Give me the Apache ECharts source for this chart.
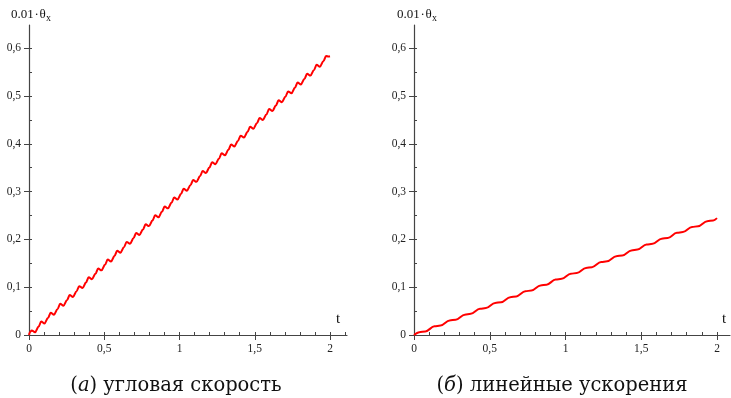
<!DOCTYPE html>
<html><head><meta charset="utf-8">
<script src="https://cdn.jsdelivr.net/npm/echarts@6/dist/echarts.min.js"></script>
<style>html,body{margin:0;padding:0;background:#fff}#c{width:731px;height:398px}</style>
</head><body><div id="c"></div>
<script>
// Left panel: angular velocity curve (t, 0.01*theta_x)
const leftT = [0, 0.006,
  0.018, 0.040, 0.063,
  0.0811, 0.1031, 0.1261,
  0.1442, 0.1662, 0.1892,
  0.2073, 0.2293, 0.2523,
  0.2704, 0.2924, 0.3154,
  0.3335, 0.3555, 0.3785,
  0.3966, 0.4186, 0.4416,
  0.4597, 0.4817, 0.5047,
  0.5228, 0.5448, 0.5678,
  0.5859, 0.6079, 0.6309,
  0.649, 0.671, 0.694,
  0.7121, 0.7341, 0.7571,
  0.7752, 0.7972, 0.8202,
  0.8383, 0.8603, 0.8833,
  0.9014, 0.9234, 0.9464,
  0.9645, 0.9865, 1.0095,
  1.0276, 1.0496, 1.0726,
  1.0907, 1.1127, 1.1357,
  1.1538, 1.1758, 1.1988,
  1.2169, 1.2389, 1.2619,
  1.28, 1.302, 1.325,
  1.3431, 1.3651, 1.3881,
  1.4062, 1.4282, 1.4512,
  1.4693, 1.4913, 1.5143,
  1.5324, 1.5544, 1.5774,
  1.5955, 1.6175, 1.6405,
  1.6586, 1.6806, 1.7036,
  1.7217, 1.7437, 1.7667,
  1.7848, 1.8068, 1.8298,
  1.8479, 1.8699, 1.8929,
  1.911, 1.933, 1.956,
  1.9741, 1.99, 2.0];
const leftY = [0, 0.006,
  0.0096, 0.0056, 0.0171,
  0.0281, 0.0241, 0.0356,
  0.0466, 0.0426, 0.0541,
  0.0652, 0.0612, 0.0727,
  0.0837, 0.0797, 0.0912,
  0.1022, 0.0982, 0.1097,
  0.1207, 0.1167, 0.1282,
  0.1392, 0.1352, 0.1467,
  0.1577, 0.1537, 0.1652,
  0.1763, 0.1723, 0.1838,
  0.1948, 0.1908, 0.2023,
  0.2133, 0.2093, 0.2208,
  0.2318, 0.2278, 0.2393,
  0.2503, 0.2463, 0.2578,
  0.2689, 0.2649, 0.2764,
  0.2874, 0.2834, 0.2949,
  0.3059, 0.3019, 0.3134,
  0.3244, 0.3204, 0.3319,
  0.3429, 0.3389, 0.3504,
  0.3614, 0.3574, 0.3689,
  0.3800, 0.3760, 0.3875,
  0.3985, 0.3945, 0.4060,
  0.4170, 0.4130, 0.4245,
  0.4355, 0.4315, 0.4430,
  0.4540, 0.4500, 0.4615,
  0.4726, 0.4686, 0.4801,
  0.4911, 0.4871, 0.4986,
  0.5096, 0.5056, 0.5171,
  0.5281, 0.5241, 0.5356,
  0.5466, 0.5426, 0.5541,
  0.5652, 0.5612, 0.5727,
  0.5837, 0.5825, 0.5830];

// Right panel: linear accelerations curve
const rightT = [0,
  0.035, 0.075, 0.135, 0.175, 0.235, 0.275, 0.335, 0.375, 0.435, 0.475,
  0.535, 0.575, 0.635, 0.675, 0.735, 0.775, 0.835, 0.875, 0.935, 0.975,
  1.035, 1.075, 1.135, 1.175, 1.235, 1.275, 1.335, 1.375, 1.435, 1.475,
  1.535, 1.575, 1.635, 1.675, 1.735, 1.775, 1.835, 1.875, 1.935, 1.975,
  2.0];
const rightY = [0,
  0.0059, 0.0075, 0.0181, 0.0197, 0.0304, 0.0320, 0.0426, 0.0442, 0.0548, 0.0564,
  0.0670, 0.0686, 0.0792, 0.0808, 0.0915, 0.0931, 0.1037, 0.1053, 0.1159, 0.1175,
  0.1281, 0.1297, 0.1403, 0.1419, 0.1526, 0.1542, 0.1648, 0.1664, 0.1770, 0.1786,
  0.1892, 0.1908, 0.2014, 0.2030, 0.2137, 0.2153, 0.2259, 0.2275, 0.2381, 0.2397,
  0.2445];

const xLabelValues = [0, 0.5, 1, 1.5, 2];
const xMinorValues = [0, 0.1, 0.2, 0.3, 0.4, 0.5, 0.6, 0.7, 0.8, 0.9, 1, 1.1, 1.2, 1.3, 1.4, 1.5, 1.6, 1.7, 1.8, 1.9, 2, 2.1];
const yLabelValues = [0, 0.1, 0.2, 0.3, 0.4, 0.5, 0.6];
const yMinorValues = [0, 0.05, 0.1, 0.15, 0.2, 0.25, 0.3, 0.35, 0.4, 0.45, 0.5, 0.55, 0.6];
const yTitleMain = '0.01';
const yTitleSym = 'θ';
const yTitleSub = 'x';
const xName = 't';
const captionLeft = ['а', ' угловая скорость'];
const captionRight = ['б', ' линейные ускорения'];

const FONT = '"Liberation Serif", "Times New Roman", serif';
const CAPFONT = '"DejaVu Serif", serif';
const AX = '#444';
const fmt = v => String(Math.round(v * 10) / 10).replace('.', ',');

function xAxes(grid, max) {
  return [
    { type: 'value', gridIndex: grid, min: 0, max: max,
      axisLine: { show: true, onZero: false, lineStyle: { color: AX, width: 1.2 } },
      axisTick: { show: true, customValues: xLabelValues, length: 5, lineStyle: { color: AX } },
      axisLabel: { customValues: xLabelValues, formatter: fmt, margin: 8, color: '#222', fontFamily: FONT, fontSize: 11.5 },
      splitLine: { show: false } },
    { type: 'value', gridIndex: grid, min: 0, max: max,
      axisLine: { show: false },
      axisTick: { show: true, customValues: xMinorValues, length: 3, lineStyle: { color: AX } },
      axisLabel: { show: false }, splitLine: { show: false } }
  ];
}
function yAxes(grid) {
  return [
    { type: 'value', gridIndex: grid, min: 0, max: 0.6485,
      axisLine: { show: true, onZero: false, lineStyle: { color: AX, width: 1.2 } },
      axisTick: { show: true, customValues: yLabelValues, length: 5, lineStyle: { color: AX } },
      axisLabel: { customValues: yLabelValues, formatter: fmt, margin: 8, color: '#222', fontFamily: FONT, fontSize: 11.5 },
      splitLine: { show: false } },
    { type: 'value', gridIndex: grid, min: 0, max: 0.6485,
      axisLine: { show: false },
      axisTick: { show: true, customValues: yMinorValues, length: 3, lineStyle: { color: AX } },
      axisLabel: { show: false }, splitLine: { show: false } }
  ];
}

function titleGraphics(x0) {
  return [
    { type: 'text', left: x0, top: 8, style: { text: yTitleMain, font: '13px ' + FONT, fill: '#111' } },
    { type: 'text', left: x0 + 23.5, top: 8, style: { text: '·', font: '13px ' + FONT, fill: '#111' } },
    { type: 'text', left: x0 + 28.5, top: 8, style: { text: yTitleSym, font: '13px ' + FONT, fill: '#111' } },
    { type: 'text', left: x0 + 35, top: 13.5, style: { text: yTitleSub, font: '10px ' + FONT, fill: '#111' } }
  ];
}
function caption(cx, parts) {
  return { type: 'text', x: cx, y: 386,
    style: { text: '({i|' + parts[0] + '})' + parts[1], fill: '#111', font: '19.5px ' + CAPFONT,
      align: 'center', verticalAlign: 'middle',
      rich: { i: { fontStyle: 'italic', fontFamily: CAPFONT, fontSize: 19.5, fill: '#111' } } } };
}

const chart = echarts.init(document.getElementById('c'), null, { renderer: 'canvas' });
chart.setOption({
  backgroundColor: '#fff',
  animation: false,
  grid: [
    { left: 29, top: 25, width: 318, height: 310 },
    { left: 414, top: 25, width: 316, height: 310 }
  ],
  xAxis: [...xAxes(0, 318 / 150.5), ...xAxes(1, 316 / 151.5)],
  yAxis: [...yAxes(0), ...yAxes(1)],
  series: [
    { type: 'line', xAxisIndex: 0, yAxisIndex: 0, showSymbol: false, smooth: 0.35, smoothMonotone: 'x',
      data: leftT.map((t, i) => [t, leftY[i]]), lineStyle: { color: '#ff0000', width: 2 } },
    { type: 'line', xAxisIndex: 2, yAxisIndex: 2, showSymbol: false, smooth: 0.35, smoothMonotone: 'x',
      data: rightT.map((t, i) => [t, rightY[i]]), lineStyle: { color: '#ff0000', width: 2 } }
  ],
  graphic: [
    ...titleGraphics(11), ...titleGraphics(397),
    { type: 'text', left: 336, top: 312, style: { text: xName, font: '15px ' + FONT, fill: '#111' } },
    { type: 'text', left: 722, top: 312, style: { text: xName, font: '15px ' + FONT, fill: '#111' } },
    caption(176, captionLeft),
    caption(562, captionRight)
  ]
});
</script>
</body></html>
